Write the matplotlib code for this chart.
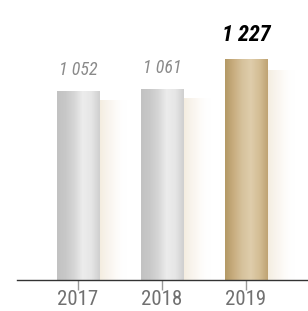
import matplotlib
matplotlib.use('Agg')
import matplotlib.pyplot as plt
import numpy as np
from matplotlib.colors import LinearSegmentedColormap
from matplotlib.patches import Rectangle

years = ['2017', '2018', '2019']
values = [1052, 1061, 1227]
labels = ['1 052', '1 061', '1 227']
highlight = [False, False, True]

FONT = ['Roboto Condensed', 'DejaVu Sans']

gray_cmap = LinearSegmentedColormap.from_list(
    'gray_bar', ['#c2c2c2', '#c8c8c8', '#d6d6d6', '#ececec', '#e6e6e6', '#cfcfcf'])
gold_cmap = LinearSegmentedColormap.from_list(
    'gold_bar', ['#b39965', '#c8ad7f', '#d6c29c', '#dfcdab', '#d4be95', '#bfa373'])
shadow_cmap = LinearSegmentedColormap.from_list(
    'shadow', [(0.94, 0.90, 0.83, 0.75), (0.97, 0.94, 0.90, 0.45), (1, 1, 1, 0)])

fig = plt.figure(figsize=(3.08, 3.11), dpi=100)
ax = fig.add_axes([17 / 308, 31 / 311, 291 / 308, 270 / 311])
ax.set_xlim(-0.726, 2.738)
ax.set_ylim(0, 1500)

width = 0.51
x = np.arange(len(years))
grad = np.linspace(0, 1, 256).reshape(1, -1)

for i, v in enumerate(values):
    left = x[i] - width / 2
    # soft shadow to the right of each bar
    ax.imshow(grad, cmap=shadow_cmap, aspect='auto', interpolation='bilinear',
              extent=(left + width, left + width + 0.33, 0, v * 0.95), zorder=1)
    cmap = gold_cmap if highlight[i] else gray_cmap
    rect = Rectangle((left, 0), width, v, facecolor='none', edgecolor='none')
    ax.add_patch(rect)
    im = ax.imshow(grad, cmap=cmap, aspect='auto', interpolation='bilinear',
                   extent=(left, left + width, 0, v), zorder=2)
    im.set_clip_path(rect)

    if highlight[i]:
        ax.text(x[i], v + 135, labels[i], ha='center', va='center', fontsize=16,
                fontstyle='italic', fontweight='heavy', color='black', family=FONT)
    else:
        ax.text(x[i], v + 115, labels[i], ha='center', va='center', fontsize=13,
                fontstyle='italic', color='#8a8a8a', family=FONT)

for s in ['top', 'right', 'left']:
    ax.spines[s].set_visible(False)
ax.spines['bottom'].set_color('#333333')
ax.spines['bottom'].set_linewidth(1)
ax.set_yticks([])
ax.set_xticks(x)
ax.set_xticklabels(years, fontsize=15, color='#707070', family=FONT)
ax.tick_params(axis='x', length=7, color='#999999', width=1, pad=0)

fig.savefig('out.png', dpi=100)
